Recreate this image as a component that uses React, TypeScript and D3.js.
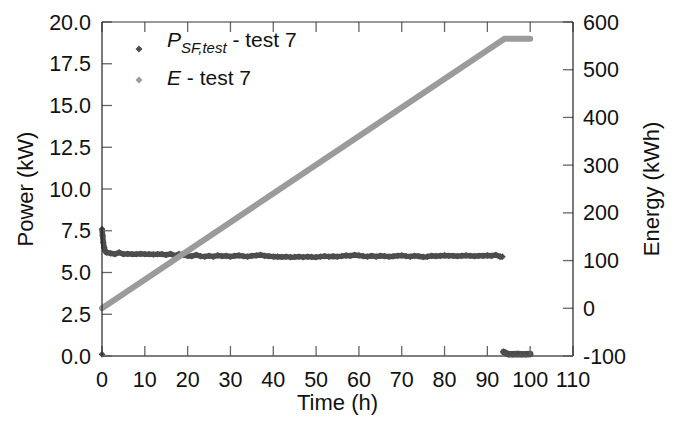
import React from 'react';
import * as d3 from 'd3';

// Power P_SF,test (kW) vs time (h)
const powerOn: [number, number][] = [
  [0, 7.6], [0.15, 7.2], [0.3, 6.8], [0.5, 6.5], [0.75, 6.3], [1, 6.2],
  [2, 6.15], [3, 6.1], [4, 6.2], [5, 6.1], [6, 6.12], [7, 6.1], [8, 6.1], [9, 6.12], [10, 6.1],
  [11, 6.1], [12, 6.08], [13, 6.1], [14, 6.1], [15, 6.05], [16, 6.12], [17, 6.0], [18, 6.1], [19, 6.05], [20, 6.0],
  [21, 5.98], [22, 6.05], [23, 5.98], [24, 5.95], [25, 6.0], [26, 5.95], [27, 6.02], [28, 5.98], [29, 6.0], [30, 5.95],
  [31, 6.0], [32, 6.02], [33, 5.98], [34, 5.95], [35, 6.0], [36, 6.02], [37, 6.05], [38, 6.0], [39, 5.98], [40, 5.95],
  [41, 5.95], [42, 5.93], [43, 5.95], [44, 5.92], [45, 5.93], [46, 5.95], [47, 5.92], [48, 5.95], [49, 5.93], [50, 5.92],
  [51, 5.95], [52, 5.98], [53, 5.95], [54, 5.97], [55, 5.95], [56, 5.98], [57, 6.02], [58, 6.0], [59, 6.05], [60, 6.02],
  [61, 5.98], [62, 5.95], [63, 6.0], [64, 5.95], [65, 6.0], [66, 5.98], [67, 5.95], [68, 5.97], [69, 6.0], [70, 6.02],
  [71, 5.98], [72, 5.95], [73, 6.0], [74, 5.97], [75, 5.93], [76, 5.95], [77, 6.0], [78, 5.98], [79, 6.0], [80, 6.02],
  [81, 6.0], [82, 6.0], [83, 5.98], [84, 6.0], [85, 6.02], [86, 6.0], [87, 5.98], [88, 6.0], [89, 6.0], [90, 6.02],
  [91, 6.0], [92, 6.05], [93, 5.95], [93.5, 5.95],
];
const powerOff: [number, number][] = [
  [93.8, 0.25], [94.5, 0.15], [95, 0.1], [96, 0.1], [97, 0.12], [98, 0.1], [99, 0.1], [100, 0.12],
];
const powerStart: [number, number][] = [[0, 0.1]];

// Energy E (kWh) vs time (h)
const energy: [number, number][] = [[0, 0], [94, 565], [100, 565]];

const timeTicks = [0, 10, 20, 30, 40, 50, 60, 70, 80, 90, 100, 110];
const powerTicks = [0, 2.5, 5, 7.5, 10, 12.5, 15, 17.5, 20];
const energyTicks = [-100, 0, 100, 200, 300, 400, 500, 600];

const W = 679;
const H = 422;
const m = { left: 102, right: 106, top: 22, bottom: 66 };
const font = 'Liberation Sans, Arial, sans-serif';
const darkCol = '#4d4d4d';
const lightCol = '#9b9b9b';

const diamond = (r: number) => `M0,${-r}L${r},0L0,${r}L${-r},0Z`;

export default function App() {
  const x = d3.scaleLinear().domain([0, 110]).range([m.left, W - m.right]);
  const yP = d3.scaleLinear().domain([0, 20]).range([H - m.bottom, m.top]);
  const yE = d3.scaleLinear().domain([-100, 600]).range([H - m.bottom, m.top]);
  const x0 = m.left, x1 = W - m.right, y0 = H - m.bottom, y1 = m.top;

  const lineP = d3.line<[number, number]>().x(d => x(d[0])).y(d => yP(d[1]));
  const lineE = d3.line<[number, number]>().x(d => x(d[0])).y(d => yE(d[1]));
  const allPower = [...powerStart, ...powerOn, ...powerOff];
  const tl = 10;

  return (
    <svg width={W} height={H} style={{ position: 'absolute', left: 0, top: 0, background: '#fff' }} fontFamily={font}>
      {/* power series */}
      <path d={lineP(powerOn) || ''} fill="none" stroke={darkCol} strokeWidth={5.5} strokeLinejoin="round" />
      <path d={lineP(powerOff) || ''} fill="none" stroke={darkCol} strokeWidth={6.5} strokeLinecap="round" />
      {allPower.map((d, i) => (
        <path key={'p' + i} d={diamond(3.4)} transform={`translate(${x(d[0])},${yP(d[1])})`} fill={darkCol} />
      ))}
      {/* energy series */}
      <path d={lineE(energy) || ''} fill="none" stroke={lightCol} strokeWidth={6} strokeLinecap="round" strokeLinejoin="round" />

      {/* ticks */}
      <g stroke="#666" strokeWidth={1.3}>
        {timeTicks.map(t => (
          <g key={'xt' + t}>
            <line x1={x(t)} x2={x(t)} y1={y0} y2={y0 - tl} />
            <line x1={x(t)} x2={x(t)} y1={y1} y2={y1 + tl} />
          </g>
        ))}
        {powerTicks.map(t => (
          <line key={'pt' + t} x1={x0} x2={x0 + tl} y1={yP(t)} y2={yP(t)} />
        ))}
        {energyTicks.map(t => (
          <line key={'et' + t} x1={x1} x2={x1 - tl} y1={yE(t)} y2={yE(t)} />
        ))}
      </g>
      {/* frame */}
      <line x1={x0} x2={x0} y1={y1} y2={y0} stroke="#222" strokeWidth={1.2} />
      <line x1={x1} x2={x1} y1={y1} y2={y0} stroke="#222" strokeWidth={1.2} />
      <line x1={x0} x2={x1} y1={y1} y2={y1} stroke="#333" strokeWidth={1.2} />
      <line x1={x0} x2={x1} y1={y0} y2={y0} stroke="#555" strokeWidth={1.5} />

      {/* tick labels */}
      <g fontSize={21.5} fill="#111">
        {timeTicks.map(t => (
          <text key={'xl' + t} x={x(t)} y={y0 + 31} textAnchor="middle">{t}</text>
        ))}
        {powerTicks.map(t => (
          <text key={'pl' + t} x={x0 - 11} y={yP(t) + 7.5} textAnchor="end">{t.toFixed(1)}</text>
        ))}
        {energyTicks.map(t => (
          <text key={'el' + t} x={x1 + 10} y={yE(t) + 7.5} textAnchor="start">{t}</text>
        ))}
      </g>

      {/* axis titles */}
      <g fontSize={22} fill="#111">
        <text x={(x0 + x1) / 2} y={H - 12} textAnchor="middle">Time (h)</text>
        <text transform={`translate(33,${(y0 + y1) / 2}) rotate(-90)`} textAnchor="middle">Power (kW)</text>
        <text transform={`translate(659,${(y0 + y1) / 2}) rotate(-90)`} textAnchor="middle">Energy (kWh)</text>
      </g>

      {/* legend */}
      <g fill="#111" fontSize={21}>
        <path d={diamond(3.5)} transform="translate(139,49)" fill={darkCol} />
        <text x={167} y={47}>
          <tspan fontStyle="italic">P</tspan>
          <tspan fontStyle="italic" fontSize={15} dy={6}>SF,test</tspan>
          <tspan dy={-6}> - test 7</tspan>
        </text>
        <path d={diamond(3.5)} transform="translate(139,80)" fill={lightCol} />
        <text x={167} y={85}>
          <tspan fontStyle="italic">E</tspan>
          <tspan> - test 7</tspan>
        </text>
      </g>
    </svg>
  );
}
